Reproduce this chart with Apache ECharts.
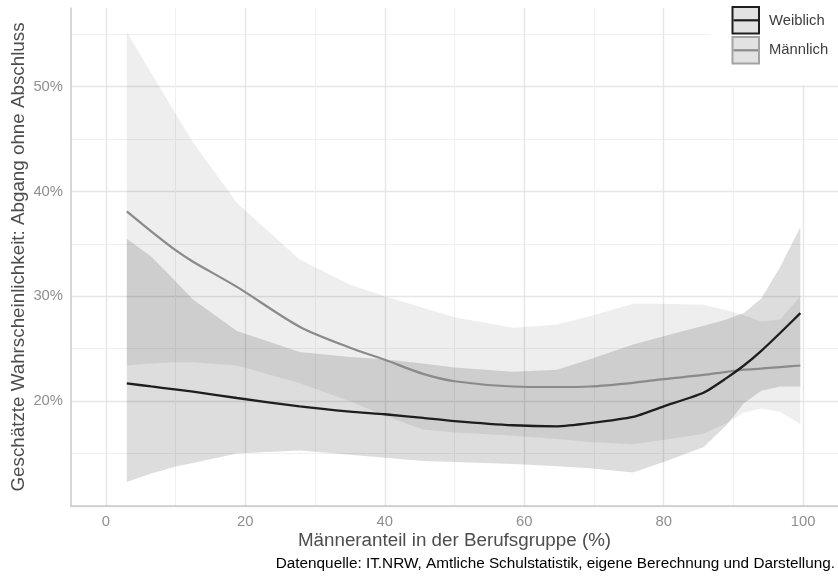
<!DOCTYPE html>
<html>
<head>
<meta charset="utf-8">
<script src="https://cdn.jsdelivr.net/npm/echarts@6/dist/echarts.min.js"></script>
<style>
html,body{margin:0;padding:0;background:#fff;}
#chart{width:838px;height:577px;}
</style>
</head>
<body>
<div id="chart"></div>
<script>
// Männeranteil in der Berufsgruppe (%)
const xs = [3.0, 6.5, 10.2, 12.5, 18.8, 27.8, 35.0, 40.0, 45.5, 50.0, 58.4, 64.7, 69.4, 75.6, 80.0, 85.7, 89.0, 91.5, 94.0, 96.7, 99.6];
// Männlich: Schätzung und Konfidenzband (%)
const mannLine  = [38.1, 36.2, 34.3, 33.3, 30.9, 27.1, 25.1, 23.95, 22.6, 21.9, 21.4, 21.35, 21.4, 21.75, 22.1, 22.5, 22.8, 23.0, 23.1, 23.25, 23.4];
const mannUpper = [55.2, 51.3, 47.2, 44.7, 38.9, 33.5, 31.1, 30.0, 28.9, 28.0, 27.0, 27.3, 28.1, 29.3, 29.3, 29.2, 28.7, 28.2, 27.6, 27.8, 30.0];
const mannLower = [23.4, 23.6, 23.7, 23.7, 23.4, 21.7, 20.0, 18.6, 17.3, 17.0, 16.7, 16.4, 16.1, 15.9, 16.3, 16.9, 17.9, 18.9, 19.3, 19.0, 17.8];
// Weiblich: Schätzung und Konfidenzband (%)
const weibLine  = [21.7, 21.4, 21.1, 20.9, 20.3, 19.5, 19.0, 18.75, 18.4, 18.1, 17.7, 17.6, 17.9, 18.5, 19.5, 20.8, 22.2, 23.4, 24.8, 26.5, 28.4];
const weibUpper = [35.5, 33.8, 31.3, 29.7, 26.7, 24.7, 24.2, 24.0, 23.6, 23.2, 22.8, 23.0, 24.0, 25.4, 26.2, 27.2, 27.8, 28.4, 29.8, 32.8, 36.6];
const weibLower = [12.3, 13.1, 13.8, 14.1, 15.0, 15.3, 14.9, 14.6, 14.3, 14.2, 14.0, 13.8, 13.6, 13.2, 14.2, 15.6, 17.7, 19.8, 21.0, 21.4, 21.4];
// Tick labels
const xTicks = [0, 20, 40, 60, 80, 100];
const yTicks = [20, 30, 40, 50];
const seriesNames = ['Weiblich', 'Männlich'];
const xTitle = 'Männeranteil in der Berufsgruppe (%)';
const yTitle = 'Geschätzte Wahrscheinlichkeit: Abgang ohne Abschluss';
const caption = 'Datenquelle: IT.NRW, Amtliche Schulstatistik, eigene Berechnung und Darstellung.';

const FONT = '"Liberation Sans", Arial, Helvetica, sans-serif';
const T = 'rgba(0,0,0,0)';
const MAJ = '#e6e6e6';
const MIN = '#f0f0f0';

const pairs = (a) => xs.map((x, i) => [x, a[i]]);

const chart = echarts.init(document.getElementById('chart'), null, {renderer: 'canvas'});

// Confidence ribbon drawn as one polygon through the axis scales
const band = (name, lo, up, fill) => ({
  name: name, type: 'custom', silent: true, z: 2,
  data: xs.map((x, i) => [x, lo[i], up[i]]),
  encode: {x: 0, y: [1, 2]},
  renderItem: (params, api) => {
    if (params.dataIndex !== 0) return null;
    const top = xs.map((x, i) => api.coord([x, up[i]]));
    const bot = xs.map((x, i) => api.coord([x, lo[i]])).reverse();
    return {type: 'polygon', shape: {points: top.concat(bot)}, style: {fill: fill}};
  }
});

const option = {
  animation: false,
  backgroundColor: '#fff',
  textStyle: {fontFamily: FONT},
  title: {
    text: caption, right: -2, top: 551,
    textStyle: {fontFamily: FONT, fontSize: 15.3, fontWeight: 'normal', color: '#000'}
  },
  grid: {left: 71, right: 0, top: 8, bottom: 71, containLabel: false, outerBoundsMode: 'none'},
  xAxis: [
    {
      type: 'value', min: -5, max: 105, interval: 5,
      name: xTitle, nameLocation: 'middle', nameGap: 25, nameMoveOverlap: false,
      nameTextStyle: {fontFamily: FONT, fontSize: 18.8, color: '#4d4d4d'},
      axisLine: {show: true, onZero: false, lineStyle: {color: '#c9c9c9', width: 1.5}},
      axisTick: {show: false},
      axisLabel: {
        fontFamily: FONT, fontSize: 14.8, color: '#8f8f8f', margin: 8,
        formatter: (v) => xTicks.indexOf(v) >= 0 ? String(v) : ''
      },
      splitLine: {show: true, showMinLine: true, showMaxLine: false, lineStyle: {color: [T, MAJ, T, T], width: 1.4}}
    },
    {
      type: 'value', min: -5, max: 105, interval: 5, position: 'bottom',
      axisLine: {show: false}, axisTick: {show: false}, axisLabel: {show: false},
      splitLine: {show: true, showMinLine: true, showMaxLine: false, lineStyle: {color: [T, T, T, MIN], width: 1}}
    }
  ],
  yAxis: [
    {
      type: 'value', min: 10, max: 57.5, interval: 5,
      name: yTitle, nameLocation: 'middle', nameGap: 43, nameRotate: 90, nameMoveOverlap: false,
      nameTextStyle: {fontFamily: FONT, fontSize: 18.8, color: '#4d4d4d'},
      axisLine: {show: true, onZero: false, lineStyle: {color: '#c9c9c9', width: 1.5}},
      axisTick: {show: false},
      axisLabel: {
        fontFamily: FONT, fontSize: 14.8, color: '#8f8f8f', margin: 8,
        formatter: (v) => yTicks.indexOf(v) >= 0 ? v + '%' : ''
      },
      splitLine: {show: true, showMinLine: true, showMaxLine: false, lineStyle: {color: [MAJ, T], width: 1.4}}
    },
    {
      type: 'value', min: 10, max: 57.5, interval: 5, position: 'left',
      axisLine: {show: false}, axisTick: {show: false}, axisLabel: {show: false},
      splitLine: {show: true, showMinLine: true, showMaxLine: false, lineStyle: {color: [T, MIN], width: 1}}
    }
  ],
  series: [
    band('mBand', mannLower, mannUpper, 'rgba(0,0,0,0.065)'),
    band('wBand', weibLower, weibUpper, 'rgba(0,0,0,0.135)'),
    {
      name: seriesNames[1], type: 'line', data: pairs(mannLine), showSymbol: false, symbol: 'none', smooth: 0.3,
      lineStyle: {color: '#8a8a8a', width: 2.2}, itemStyle: {color: '#8a8a8a'}, z: 4
    },
    {
      name: seriesNames[0], type: 'line', data: pairs(weibLine), showSymbol: false, symbol: 'none', smooth: 0.2,
      lineStyle: {color: '#1e1e1e', width: 2.3}, itemStyle: {color: '#1e1e1e'}, z: 5
    }
  ],
  graphic: [
    {type: 'rect', z: 100, shape: {x: 710, y: 0, width: 128, height: 85}, style: {fill: '#fff'}, silent: true},
    {type: 'rect', z: 101, shape: {x: 732.5, y: 7, width: 26.5, height: 26.5}, style: {fill: '#e2e2e2', stroke: '#1e1e1e', lineWidth: 2}},
    {type: 'line', z: 102, shape: {x1: 733.5, y1: 20.3, x2: 758, y2: 20.3}, style: {stroke: '#1e1e1e', lineWidth: 2.2}},
    {type: 'text', z: 102, style: {x: 769, y: 21, text: seriesNames[0], fontFamily: FONT, fontSize: 14.8, fill: '#3d3d3d', verticalAlign: 'middle', align: 'left'}},
    {type: 'rect', z: 101, shape: {x: 732.5, y: 37, width: 26.5, height: 26.5}, style: {fill: '#e2e2e2', stroke: '#a3a3a3', lineWidth: 2}},
    {type: 'line', z: 102, shape: {x1: 733.5, y1: 50.3, x2: 758, y2: 50.3}, style: {stroke: '#8a8a8a', lineWidth: 2.2}},
    {type: 'text', z: 102, style: {x: 769, y: 50, text: seriesNames[1], fontFamily: FONT, fontSize: 14.8, fill: '#3d3d3d', verticalAlign: 'middle', align: 'left'}}
  ]
};
chart.setOption(option);
</script>
</body>
</html>
